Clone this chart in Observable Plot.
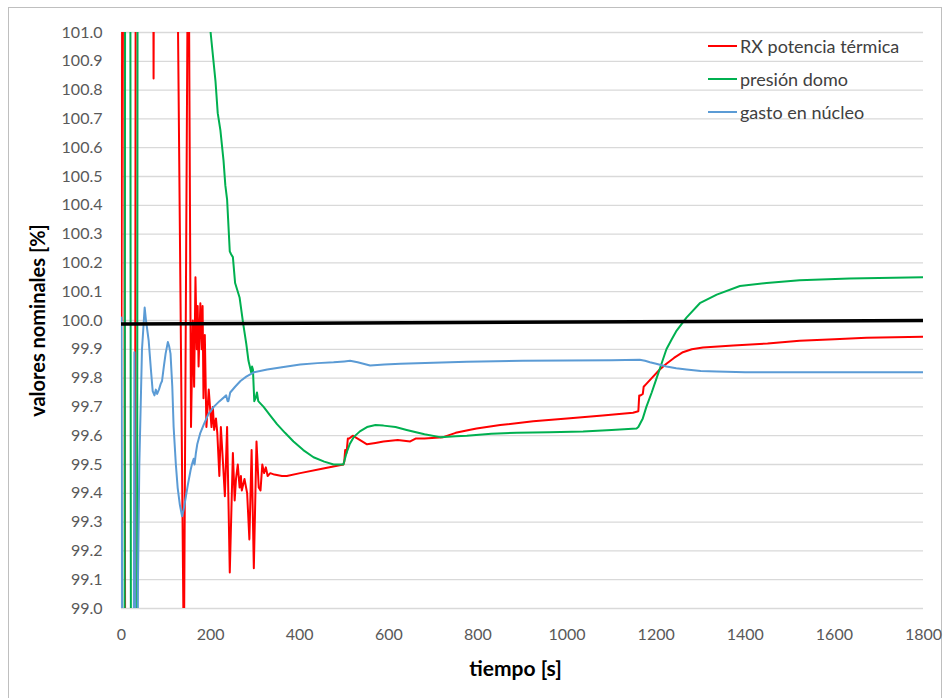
<!DOCTYPE html>
<html>
<head>
<meta charset="utf-8">
<script src="https://cdn.jsdelivr.net/npm/d3@7"></script>
<script src="https://cdn.jsdelivr.net/npm/@observablehq/plot@0.6"></script>
<style>
  html, body { margin: 0; padding: 0; background: #fff; }
  #wrap { position: relative; width: 952px; height: 698px; overflow: hidden; background: #fff; }
  #border { position: absolute; left: 8px; top: 7px; width: 934px; height: 720px; border: 1px solid #bfbfbf; box-sizing: border-box; }
  #chart { position: absolute; left: 0; top: 0; }
  #legend { position: absolute; left: 708px; top: 29px; font-family: Lato, "Open Sans", sans-serif; font-size: 18px; color: #404040; }
  .row { display: flex; align-items: center; height: 33px; }
  .sw { width: 29px; height: 2px; margin-right: 3px; }
</style>
</head>
<body>
<div id="wrap">
  <div id="border"></div>
  <div id="chart"></div>
  <div id="legend"></div>
</div>
<script>
// ---- data ----
const seriesNames = ["RX potencia térmica", "presión domo", "gasto en núcleo"];
const seriesColors = ["#ff0000", "#00b050", "#5b9bd5"];

const tRed = [0,4,10,29,33,68,72,76,118,140,150,156,160,163,166,169,171,173,177,180,182,184,187,190.6,195.8,202,205,208,212,215,219.6,223,228,232,237,243,250,254,257,261,265,268,270,276,282,287,292,297,303,308,312,316,320,324,328,334,343,360,371,401,450,498,500,502,505,508,511,519,530,551,570,588,620,648,660,680,722,750,780,797,850,924,1000,1080,1148,1160,1162,1165,1170,1172,1178,1190,1208,1223,1240,1260,1280,1305,1373,1450,1522,1600,1672,1800];
const vRed = [100.0,103,97,97,103,103,100.84,103,102.5,98.8,101.6,99.63,100.0,99.77,100.15,99.9,100.05,99.84,100.06,99.9,100.05,99.73,99.95,99.63,99.76,99.63,99.7,99.62,99.66,99.61,99.46,99.63,99.5,99.39,99.63,99.125,99.54,99.375,99.45,99.50,99.42,99.46,99.41,99.45,99.40,99.24,99.55,99.14,99.58,99.42,99.41,99.5,99.47,99.49,99.46,99.47,99.465,99.46,99.46,99.47,99.485,99.50,99.51,99.55,99.54,99.59,99.59,99.60,99.59,99.57,99.575,99.58,99.585,99.58,99.59,99.59,99.595,99.61,99.62,99.625,99.637,99.65,99.66,99.67,99.68,99.685,99.74,99.74,99.745,99.77,99.78,99.80,99.83,99.85,99.87,99.89,99.90,99.906,99.913,99.92,99.93,99.935,99.94,99.944];

const tGreen = [0,6,9,19,22,34,37,190,200,211,216,222,229,233,237,243,246,250,255,265,273,280,285,291,293,295,298,301,304,307,310,319,334,349,367,386,408,431,455,476,498,505,512,521,535,551,570,588,615,640,680,715,750,775,830,887,960,1036,1100,1156,1160,1170,1178,1190,1201,1212,1223,1235,1246,1268,1298,1336,1388,1448,1522,1634,1800];
const vGreen = [97,97,103,103,97,97,103,102,101.0,100.83,100.72,100.66,100.555,100.47,100.42,100.24,100.23,100.22,100.13,100.08,99.99,99.92,99.86,99.82,99.84,99.83,99.72,99.73,99.75,99.72,99.715,99.70,99.67,99.64,99.61,99.58,99.55,99.525,99.51,99.50,99.50,99.54,99.57,99.595,99.615,99.63,99.637,99.635,99.63,99.62,99.605,99.595,99.598,99.60,99.607,99.61,99.612,99.615,99.62,99.625,99.63,99.66,99.70,99.75,99.80,99.85,99.90,99.935,99.965,100.01,100.06,100.09,100.12,100.13,100.14,100.146,100.15];

const tBlue = [0,2,27,29,31,35,37,40,46,52,55,61,66,70,74,77,80,84,88,91,95,99,104,107,110,114,117,122,126,131,136,139,143,149,155,158,160,162,164,167,170,177,185,195,207,220,235,238,240,244,255,267,280,297,327,360,401,440,476,500,513,530,558,590,626,700,775,900,1000,1100,1163,1175,1186,1200,1223,1245,1268,1300,1336,1400,1448,1600,1800];
const vBlue = [100.01,98.5,98.5,99.89,98.5,98.5,99.1,99.5,99.9,100.045,100.0,99.93,99.83,99.755,99.74,99.76,99.745,99.76,99.78,99.79,99.84,99.885,99.925,99.91,99.885,99.77,99.63,99.5,99.42,99.36,99.32,99.34,99.375,99.43,99.48,99.5,99.51,99.52,99.5,99.54,99.57,99.61,99.64,99.675,99.70,99.72,99.74,99.72,99.72,99.75,99.77,99.79,99.805,99.82,99.83,99.838,99.847,99.852,99.855,99.858,99.86,99.855,99.844,99.847,99.85,99.853,99.857,99.86,99.861,99.862,99.864,99.86,99.855,99.85,99.84,99.834,99.83,99.825,99.823,99.82,99.82,99.82,99.82];

const tRef = [0, 1800];
const vRef = [99.988, 100.0];

const xTicks = [0,200,400,600,800,1000,1200,1400,1600,1800];
const yTicks = [99.0,99.1,99.2,99.3,99.4,99.5,99.6,99.7,99.8,99.9,100.0,100.1,100.2,100.3,100.4,100.5,100.6,100.7,100.8,100.9,101.0];
const xTitle = "tiempo [s]";
const yTitle = "valores nominales [%]";

// ---- tables ----
const toRows = (ts, vs) => ts.map((t, i) => ({t, v: vs[i]}));
const red = toRows(tRed, vRed);
const green = toRows(tGreen, vGreen);
const blue = toRows(tBlue, vBlue);
const ref = toRows(tRef, vRef);

const chart = Plot.plot({
  width: 952,
  height: 698,
  marginLeft: 121,
  marginRight: 29,
  marginTop: 32,
  marginBottom: 90,
  style: {fontFamily: "Lato, 'Open Sans', sans-serif", fontSize: "16px", background: "transparent", color: "#595959"},
  x: {domain: [0, 1800]},
  y: {domain: [99, 101]},
  marks: [
    Plot.gridY(yTicks, {stroke: "#d9d9d9", strokeOpacity: 1, strokeWidth: 1.3}),
    Plot.ruleX([0], {stroke: "#d9d9d9", strokeWidth: 1.3}),
    Plot.axisY(yTicks, {tickSize: 0, tickPadding: 19, tickFormat: d => d.toFixed(1), label: null, fill: "#595959"}),
    Plot.axisX(xTicks, {tickSize: 0, tickPadding: 20, tickFormat: d => String(d), label: null, fill: "#595959"}),
    Plot.line(red, {x: "t", y: "v", stroke: seriesColors[0], strokeWidth: 2, clip: true}),
    Plot.line(green, {x: "t", y: "v", stroke: seriesColors[1], strokeWidth: 2, clip: true}),
    Plot.line(blue, {x: "t", y: "v", stroke: seriesColors[2], strokeWidth: 2, clip: true}),
    Plot.line(ref, {x: "t", y: "v", stroke: "#000", strokeWidth: 3.5, clip: true}),
    Plot.text([yTitle], {text: d => d, frameAnchor: "left", textAnchor: "middle", lineAnchor: "middle", dx: -83, rotate: -90, fontSize: 20, fontWeight: "bold", fill: "#000"}),
    Plot.text([xTitle], {text: d => d, frameAnchor: "bottom", textAnchor: "middle", lineAnchor: "middle", dy: 61, dx: -7, fontSize: 21, fontWeight: "bold", fill: "#000"})
  ]
});
document.getElementById("chart").appendChild(chart);

const legend = document.getElementById("legend");
seriesNames.forEach((name, i) => {
  const row = document.createElement("div");
  row.className = "row";
  const sw = document.createElement("div");
  sw.className = "sw";
  sw.style.background = seriesColors[i];
  const label = document.createElement("span");
  label.textContent = name;
  row.appendChild(sw);
  row.appendChild(label);
  legend.appendChild(row);
});
</script>
</body>
</html>
